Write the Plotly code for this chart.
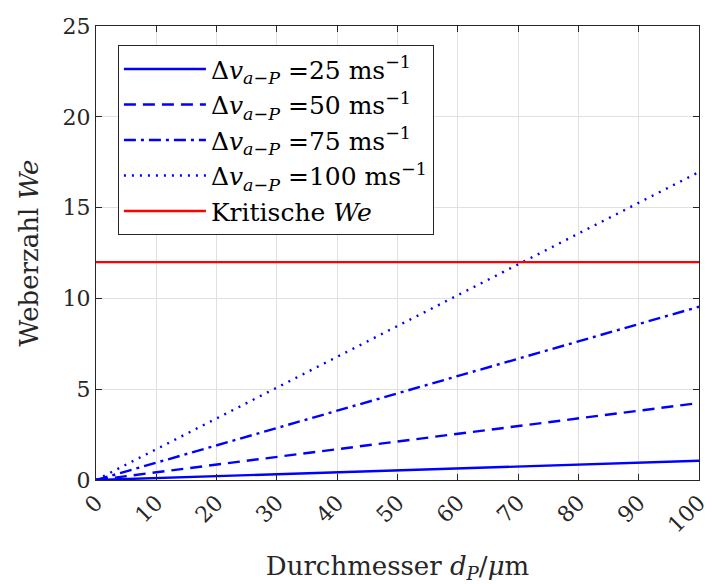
import plotly.graph_objects as go

d_um = [0, 10, 20, 30, 40, 50, 60, 70, 80, 90, 100]
we_25 = [0, 0.11, 0.21, 0.32, 0.42, 0.53, 0.64, 0.74, 0.85, 0.95, 1.06]
we_50 = [0, 0.42, 0.85, 1.27, 1.70, 2.12, 2.54, 2.97, 3.39, 3.82, 4.24]
we_75 = [0, 0.95, 1.91, 2.86, 3.82, 4.77, 5.72, 6.68, 7.63, 8.59, 9.54]
we_100 = [0, 1.70, 3.39, 5.09, 6.78, 8.48, 10.18, 11.87, 13.57, 15.26, 16.96]
crit_x = [0, 100]
crit_we = [12, 12]

labels = [
    "Δ<i>v</i><sub><i>a</i>−<i>P</i></sub> =25 ms<sup>−1</sup>",
    "Δ<i>v</i><sub><i>a</i>−<i>P</i></sub> =50 ms<sup>−1</sup>",
    "Δ<i>v</i><sub><i>a</i>−<i>P</i></sub> =75 ms<sup>−1</sup>",
    "Δ<i>v</i><sub><i>a</i>−<i>P</i></sub> =100 ms<sup>−1</sup>",
    "Kritische <i>We</i>",
]

FONT = "DejaVu Serif, serif"
fig = go.Figure()
series = [we_25, we_50, we_75, we_100]
dashes = ["solid", "12px,7px", "12px,5px,3px,5px", "2px,6px"]
for ys, dash, name in zip(series, dashes, labels[:4]):
    fig.add_trace(go.Scatter(x=d_um, y=ys, mode="lines", name=name,
                             line=dict(color="#0000ff", width=2.4, dash=dash)))
fig.add_trace(go.Scatter(x=crit_x, y=crit_we, mode="lines", name=labels[4],
                         line=dict(color="#ff0000", width=2.4)))

axis_common = dict(showline=True, linecolor="#262626", linewidth=1.2, mirror="ticks",
                   ticks="inside", ticklen=6, tickcolor="#262626",
                   showgrid=True, gridcolor="#e0e0e0", gridwidth=1, zeroline=False,
                   automargin=False,
                   tickfont=dict(family=FONT, size=22, color="#262626"))
fig.update_xaxes(range=[0, 100], tickvals=list(range(0, 101, 10)), tickangle=-45,
                 title=dict(text="Durchmesser <i>d</i><sub><i>P</i></sub>/<i>μ</i>m",
                            font=dict(family=FONT, size=26, color="#262626"), standoff=22),
                 **axis_common)
fig.update_yaxes(range=[0, 25], tickvals=list(range(0, 26, 5)),
                 title=dict(text="Weberzahl <i>We</i>",
                            font=dict(family=FONT, size=26, color="#262626"), standoff=16),
                 **axis_common)
fig.update_layout(
    width=713, height=584,
    margin=dict(l=96, r=14, t=26, b=104),
    plot_bgcolor="white", paper_bgcolor="white",
    font=dict(family=FONT, color="#262626"),
    legend=dict(x=0.036, y=0.958, xanchor="left", yanchor="top",
                bordercolor="#262626", borderwidth=1.2, bgcolor="white",
                font=dict(family=FONT, size=25, color="#000000"),
                itemwidth=82, tracegroupgap=0),
    showlegend=True,
)
fig.write_html("out.html")
